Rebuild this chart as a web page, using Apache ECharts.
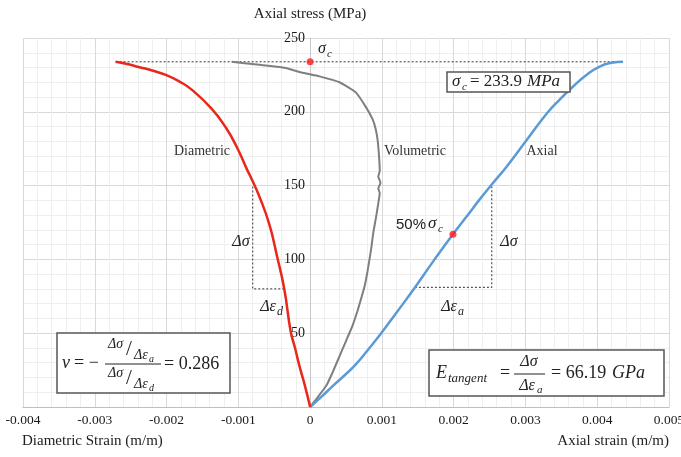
<!DOCTYPE html>
<html><head><meta charset="utf-8">
<script src="https://cdn.jsdelivr.net/npm/echarts@6/dist/echarts.min.js"></script>
<style>html,body{margin:0;padding:0;background:#fff}#c{width:681px;height:457px}</style>
</head><body><div id="c"></div>
<script>
// ---- data ----
const axialStrain   = [0, 0.00016, 0.00031, 0.00047, 0.00064, 0.00081, 0.00099, 0.00122, 0.00146, 0.00172, 0.00199, 0.00218, 0.00236, 0.00253, 0.00274, 0.00302, 0.0033, 0.00348, 0.00366, 0.00385, 0.00404, 0.0042, 0.00436];
const axialStress   = [0, 7, 14, 21, 29, 39, 50, 65, 81, 99, 117, 129, 140.5, 150.7, 163, 181, 199, 208.5, 217, 225, 230.8, 233.2, 233.9];

const diaStrain     = [0, -0.00007, -0.00015, -0.00021, -0.00027, -0.00036, -0.00046, -0.00057, -0.00071, -0.00081, -0.00088, -0.00102, -0.00117, -0.00137, -0.00165, -0.00182, -0.00201, -0.0022, -0.00239, -0.00255, -0.00271];
const diaStress     = [0, 14, 28, 40, 51, 80, 102, 124, 143, 154, 161, 176, 189, 202, 215, 220.5, 225, 228, 230.4, 232.4, 233.9];

const volStrain     = [0, 0.00008, 0.00022, 0.0003, 0.00045, 0.00052, 0.00059, 0.00066, 0.00072, 0.00076, 0.0008, 0.00085, 0.00088, 0.00092, 0.00095, 0.00097, 0.00095, 0.00098, 0.00095, 0.00097, 0.00096, 0.00094, 0.00091, 0.00087, 0.00078, 0.00064, 0.00041, 0.00013, -0.00015, -0.00034, -0.00081, -0.00109];
const volStress     = [0, 5, 14, 22, 39, 47, 55, 65, 75, 82, 92, 107, 118, 129, 138, 145, 148, 152, 156, 160, 170, 181, 189, 195, 203, 213, 220, 224, 227, 229.7, 232.4, 233.9];

const sigmaC = 233.9;
const halfPoint = [0.00199, 117];
const axialRectStrain = [0.00146, 0.00253, 0.00253];
const axialRectStress = [81, 81, 150.7];
const diaRectStrain = [-0.00036, -0.0008, -0.0008];
const diaRectStress = [80, 80, 150];
const peakLineStrain = [-0.00271, 0.00436];

const xTickValues = [-0.004, -0.003, -0.002, -0.001, 0, 0.001, 0.002, 0.003, 0.004, 0.005];
const yTickValues = [0, 50, 100, 150, 200, 250];

const zip = (a, b) => a.map((v, i) => [v, b[i]]);
const SERIF = "'Liberation Serif', 'Times New Roman', serif";

const chart = echarts.init(document.getElementById('c'), null, {renderer: 'canvas'});

function t(x, y, text, font, align, color) {
  return {type: 'text', x: x, y: y, z: 100, style: {text: text, font: font, fill: color || '#222',
    textAlign: align || 'left', textVerticalAlign: 'middle', align: align || 'left', verticalAlign: 'middle'}};
}
function ln(x1, y1, x2, y2, w) {
  return {type: 'line', z: 100, shape: {x1: x1, y1: y1, x2: x2, y2: y2}, style: {stroke: '#222', lineWidth: w || 1.2}};
}
function box(x, y, w, h) {
  return {type: 'rect', z: 99, shape: {x: x, y: y, width: w, height: h}, style: {fill: '#fff', stroke: '#555', lineWidth: 1.5}};
}
const it = (s) => 'italic ' + s + 'px ' + SERIF;
const rm = (s) => s + 'px ' + SERIF;

const graphics = [
  t(22, 441, 'Diametric Strain (m/m)', rm(15), 'left'),
  t(669, 441, 'Axial strain (m/m)', rm(15), 'right'),
  t(202, 151, 'Diametric', rm(14), 'center', '#333'),
  t(415, 151, 'Volumetric', rm(14), 'center', '#333'),
  t(542, 151, 'Axial', rm(14), 'center', '#333'),
  t(318, 49, 'σ', it(16), 'left'), t(327, 54, 'c', it(11), 'left'),
  t(396, 225, '50%', "15px 'Liberation Sans', Arial, sans-serif", 'left'),
  t(428, 224, 'σ', it(17), 'left'), t(438, 229, 'c', it(11), 'left'),
  t(241, 242, 'Δσ', it(16), 'center'),
  t(509, 242, 'Δσ', it(16), 'center'),
  t(268, 307, 'Δε', it(16), 'center'), t(277, 312, 'd', it(12), 'left'),
  t(449, 307, 'Δε', it(16), 'center'), t(458, 312, 'a', it(12), 'left'),
  box(447, 72, 123, 20),
  t(452, 82, 'σ', it(17), 'left'), t(462, 87, 'c', it(11), 'left'),
  t(470, 82, '= 233.9', rm(17), 'left'),
  t(527, 82, 'MPa', it(17), 'left'),
  box(429, 350, 235, 46),
  t(436, 373, 'E', it(18), 'left'),
  t(448, 379, 'tangent', it(13), 'left'),
  t(500, 373, '=', rm(18), 'left'),
  t(529, 362, 'Δσ', it(16), 'center'),
  ln(514, 374, 545, 374, 1),
  t(527, 386, 'Δε', it(16), 'center'), t(537, 390, 'a', it(11), 'left'),
  t(551, 373, '= 66.19', rm(18), 'left'),
  t(612, 373, 'GPa', it(18), 'left'),
  box(57, 333, 173, 60),
  t(62, 363, 'ν', it(18), 'left'),
  t(74, 363, '= −', rm(18), 'left'),
  t(108, 344, 'Δσ', it(14), 'left'),
  t(126, 349, '/', rm(21), 'left'),
  t(134, 355, 'Δε', it(14), 'left'), t(149, 359, 'a', it(10), 'left'),
  ln(105, 364, 161, 364, 1),
  t(108, 373, 'Δσ', it(14), 'left'),
  t(126, 378, '/', rm(21), 'left'),
  t(134, 384, 'Δε', it(14), 'left'), t(149, 388, 'd', it(10), 'left'),
  t(164, 364, '= 0.286', rm(18), 'left')
];

const GRID = {left: 23, right: 12, top: 38, bottom: 50};
const X_MIN = -0.004, X_MAX = 0.005;
const option = {
  animation: false,
  backgroundColor: '#fff',
  grid: [
    Object.assign({containLabel: false, outerBoundsMode: 'none'}, GRID),
    Object.assign({containLabel: false, outerBoundsMode: 'none'}, GRID)
  ],
  xAxis: [{
    gridIndex: 0, type: 'value', min: X_MIN, max: X_MAX, interval: 0.001,
    axisLine: {show: true, onZero: false, lineStyle: {color: '#bfbfbf', width: 1}},
    axisTick: {show: false},
    axisLabel: {show: true, margin: 6, color: '#1a1a1a', fontFamily: SERIF, fontSize: 13.5,
      formatter: v => { const m = xTickValues.find(tv => Math.abs(tv - v) < 1e-9); return m === 0 ? '0' : (m !== undefined ? m.toFixed(3) : ''); },
      showMaxLabel: true, showMinLabel: true},
    splitLine: {show: true, lineStyle: {color: '#d9d9d9', width: 1}},
    minorTick: {show: false, splitNumber: 5},
    minorSplitLine: {show: true, lineStyle: {color: '#efefef', width: 1}}
  }, {
    gridIndex: 1, type: 'value', min: 0, max: 1, show: false
  }],
  yAxis: [{
    gridIndex: 0, type: 'value', min: 0, max: 250, interval: 50,
    axisLine: {show: false}, axisTick: {show: false}, axisLabel: {show: false},
    splitLine: {show: true, lineStyle: {color: '#d9d9d9', width: 1}},
    minorTick: {show: false, splitNumber: 5},
    minorSplitLine: {show: true, lineStyle: {color: '#efefef', width: 1}}
  }, {
    gridIndex: 1, type: 'value', min: 0, max: 250, interval: 50, position: 'left',
    name: 'Axial stress (MPa)', nameLocation: 'end', nameGap: 16,
    nameTextStyle: {fontFamily: SERIF, fontSize: 15, color: '#222', align: 'center'},
    axisLine: {show: true, onZero: false, lineStyle: {color: '#c8c8c8', width: 1}},
    axisTick: {show: false},
    axisLabel: {margin: 5, color: '#1a1a1a', fontFamily: SERIF, fontSize: 14,
      formatter: v => (yTickValues.indexOf(v) > 0 ? String(v) : '')},
    splitLine: {show: false}
  }],
  series: [
    {name: 'peak', type: 'line', data: zip(peakLineStrain, [sigmaC, sigmaC]), symbol: 'none',
      lineStyle: {color: '#555', width: 1.2, type: [2, 2]}, z: 2},
    {name: 'axialRect', type: 'line', data: zip(axialRectStrain, axialRectStress), symbol: 'none',
      lineStyle: {color: '#555', width: 1.2, type: [2, 2]}, z: 2},
    {name: 'diaRect', type: 'line', data: zip(diaRectStrain, diaRectStress), symbol: 'none',
      lineStyle: {color: '#555', width: 1.2, type: [2, 2]}, z: 2},
    {name: 'Volumetric', type: 'line', data: zip(volStrain, volStress), symbol: 'none', smooth: 0.15,
      lineStyle: {color: '#7f7f7f', width: 2}, z: 3},
    {name: 'Axial', type: 'line', data: zip(axialStrain, axialStress), symbol: 'none', smooth: 0.5,
      lineStyle: {color: '#5b9bd5', width: 2.5}, z: 4},
    {name: 'Diametric', type: 'line', data: zip(diaStrain, diaStress), symbol: 'none', smooth: 0.5,
      lineStyle: {color: '#e8281a', width: 2.5}, z: 4},
    {name: 'points', type: 'scatter', data: [[0, sigmaC], halfPoint], symbolSize: 7,
      itemStyle: {color: '#ff1a1a'}, z: 6}
  ],
  graphic: graphics
};
chart.setOption(option);
// put the stress axis (second grid's left edge) exactly at strain = 0 of the main grid
const zeroPx = chart.convertToPixel({xAxisIndex: 0}, 0);
chart.setOption({grid: [{}, {left: zeroPx}]});
</script>
</body></html>
